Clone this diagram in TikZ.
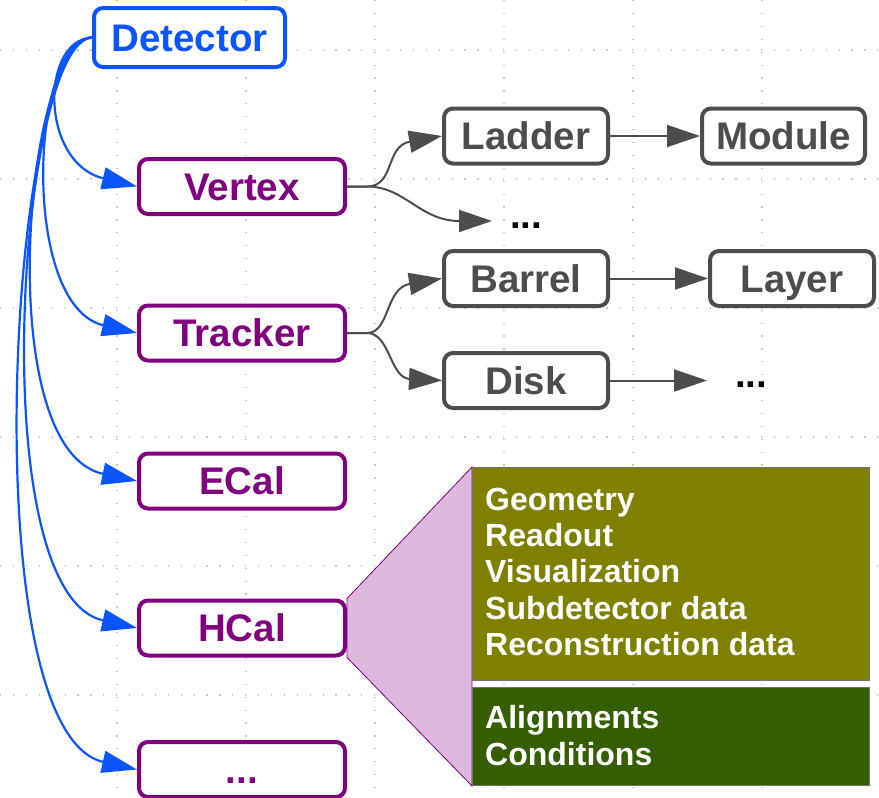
\documentclass[tikz,border=0pt]{standalone}
\usepackage{fontspec}
\setmainfont{Liberation Sans}
\usetikzlibrary{arrows.meta,backgrounds}

\definecolor{detblue}{HTML}{0A55FF}
\definecolor{subpurple}{HTML}{800080}
\definecolor{partgray}{HTML}{4D4D4D}
\definecolor{fanpink}{HTML}{DCB9DC}
\definecolor{geoolive}{HTML}{808000}
\definecolor{condgreen}{HTML}{355E00}

\tikzset{
  box/.style={draw, fill=white, rounded corners=9pt, line width=4pt,
    font=\fontsize{38.5}{40}\selectfont\bfseries,
    text height=27.6pt, text depth=0pt, inner sep=0pt, minimum height=55pt},
  topbox/.style={box, draw=detblue, text=detblue, minimum width=191pt, minimum height=59pt},
  subbox/.style={box, draw=subpurple, text=subpurple, minimum width=206pt},
  partbox/.style={box, draw=partgray, text=partgray, minimum width=164pt},
  moredots/.style={font=\fontsize{38.5}{40}\selectfont\bfseries, text=black,
    text height=14pt, text depth=0pt, inner ysep=0pt, anchor=west},
  blueconn/.style={draw=detblue, line width=2.2pt,
    -{Triangle[length=35pt,width=22pt]}},
  grayconn/.style={draw=partgray, line width=2pt,
    -{Triangle[length=33pt,width=22pt]}},
  gridline/.style={draw=gray!45, line width=1.2pt, dash pattern=on 1.2pt off 11.7pt},
  panel/.style={draw=black!55, line width=0.8pt},
  paneltext/.style={anchor=north west, inner sep=0pt, align=left, text=white,
    font=\fontsize{32}{36.3}\selectfont\bfseries},
}

\begin{document}
\begin{tikzpicture}[x=1pt, y=-1pt]
\useasboundingbox (0,0) rectangle (879,798);

% top level and subdetectors
\node[topbox] (det) at (189.5,37.5) {Detector};
\node[subbox] (vtx) at (242,186.5) {Vertex};
\node[subbox] (trk) at (242,333) {Tracker};
\node[subbox] (ecal) at (242,481) {ECal};
\node[subbox] (hcal) at (242,628) {HCal};
\node[subbox] (more) at (242,769.5) {...};

% vertex and tracker substructure
\node[partbox] (ladder) at (526,136) {Ladder};
\node[partbox, minimum width=163pt] (module) at (783.5,136) {Module};
\node[moredots, inner xsep=18pt] (vdots) at (492,221) {...};
\node[partbox] (barrel) at (526,278.5) {Barrel};
\node[partbox] (layer) at (792,278.5) {Layer};
\node[partbox] (disk) at (526,380.5) {Disk};
\node[moredots, inner xsep=28pt] (ddots) at (707,380.5) {...};

% data attached to a subdetector
\path[panel, fill=geoolive] (472,467) rectangle (869,680);
\path[panel, fill=condgreen] (472,687) rectangle (869,785);
\node[paneltext] (geo) at (485,487.6) {Geometry\\Readout\\Visualization\\Subdetector data\\Reconstruction data};
\node[paneltext] (cond) at (485,705.6) {Alignments\\Conditions};

\begin{scope}[on background layer]
  \foreach \gx in {117,246,375,504,633,762}
    \draw[gridline] (\gx,0) -- (\gx,798);
  \foreach \gy in {50,179,308,437,566,695}
    \draw[gridline] (0,\gy) -- (879,\gy);
  \filldraw[fill=fanpink, draw=subpurple, line width=0.8pt]
    (hcal.north east) -- (472,467) -- (472,786) -- (hcal.south east) -- cycle;
\end{scope}

% detector to subdetectors
\draw[blueconn] (det.west) .. controls (40,40) and (40,163) .. (vtx.west);
\draw[blueconn] (det.west) .. controls (30,40) and (20,306) .. (trk.west);
\draw[blueconn] (det.west) .. controls (25,40) and (-10,450) .. (ecal.west);
\draw[blueconn] (det.west) .. controls (20,40) and (-20,593) .. (hcal.west);
\draw[blueconn] (det.west) .. controls (10,40) and (-30,732) .. (more.west);

% substructure links
\draw[grayconn] (vtx.east) -- ++(20,0) .. controls (395,186.5) and (385,146) .. (ladder.west);
\draw[grayconn] (vtx.east) -- ++(20,0) .. controls (405,186.5) and (420,221) .. (vdots.west);
\draw[grayconn] (trk.east) -- ++(20,0) .. controls (390,333) and (385,288) .. (barrel.west);
\draw[grayconn] (trk.east) -- ++(20,0) .. controls (390,333) and (390,378) .. (disk.west);
\draw[grayconn] (ladder) -- (module);
\draw[grayconn] (barrel) -- (layer);
\draw[grayconn] (disk) -- (ddots.west);
\end{tikzpicture}
\end{document}
